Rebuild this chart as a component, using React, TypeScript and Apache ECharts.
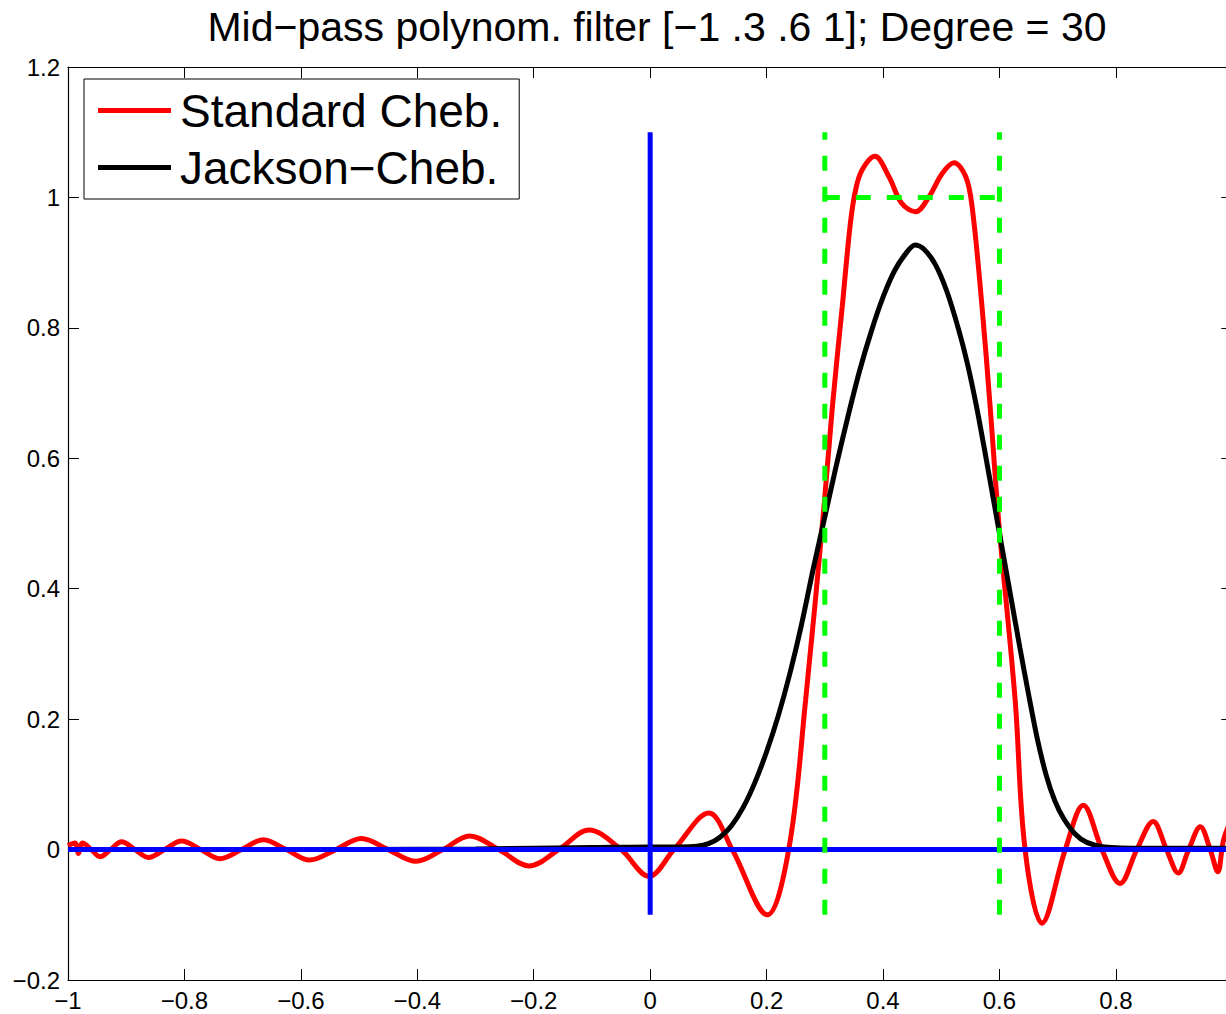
import React, { useEffect, useRef } from "react";
import * as echarts from "echarts";

const TITLE = "Mid\u2212pass polynom. filter [\u22121 .3 .6 1]; Degree = 30";
const SERIES_NAMES = ["Standard Cheb.", "Jackson\u2212Cheb."];

const X_MIN = -1;
const X_MAX = 1;
const X_STEP = 0.2;
const Y_MIN = -0.2;
const Y_MAX = 1.2;
const Y_STEP = 0.2;

// Standard Chebyshev approximation (red)
const standardCheb: [number, number][] = [
  [-1.0, 0.006], [-0.988, 0.010], [-0.982, -0.006], [-0.975, 0.010], [-0.96, 0.0],
  [-0.945, -0.011], [-0.927, 0.0], [-0.908, 0.012], [-0.885, 0.0], [-0.862, -0.012],
  [-0.834, 0.0], [-0.805, 0.013], [-0.772, 0.0], [-0.739, -0.014], [-0.702, 0.0],
  [-0.665, 0.015], [-0.625, 0.0], [-0.585, -0.016], [-0.54, 0.0], [-0.496, 0.017],
  [-0.45, 0.0], [-0.402, -0.018], [-0.356, 0.0], [-0.31, 0.021], [-0.26, 0.0],
  [-0.208, -0.025], [-0.157, 0.0], [-0.105, 0.03], [-0.05, 0.0], [-0.002, -0.041],
  [0.041, 0.0], [0.101, 0.056], [0.141, 0.0], [0.201, -0.1], [0.238, 0.0],
  [0.267, 0.229], [0.298, 0.52], [0.313, 0.679], [0.33, 0.833], [0.344, 0.961],
  [0.353, 1.012], [0.364, 1.042], [0.386, 1.063], [0.41, 1.032], [0.432, 0.991],
  [0.456, 0.978], [0.479, 1.001], [0.502, 1.037], [0.522, 1.053], [0.542, 1.032],
  [0.553, 0.986], [0.57, 0.833], [0.584, 0.679], [0.599, 0.5], [0.627, 0.229],
  [0.644, 0.0], [0.673, -0.113], [0.713, 0.0], [0.744, 0.068], [0.776, 0.0],
  [0.807, -0.052], [0.836, 0.0], [0.864, 0.043], [0.887, 0.0], [0.907, -0.036],
  [0.925, 0.0], [0.945, 0.035], [0.962, 0.0], [0.975, -0.034], [0.985, 0.015],
  [1.0, 0.05],
];

// Jackson-Chebyshev approximation (black)
const jacksonCheb: [number, number][] = [
  [-1.0, 0.0], [-0.5, 0.0], [-0.3, 0.001], [-0.1, 0.003], [0.0, 0.004],
  [0.05, 0.004], [0.08, 0.005], [0.1, 0.009], [0.12, 0.019], [0.14, 0.037],
  [0.16, 0.065], [0.18, 0.103], [0.2, 0.15], [0.22, 0.205], [0.24, 0.27],
  [0.26, 0.345], [0.28, 0.43], [0.3, 0.51], [0.32, 0.59], [0.34, 0.665],
  [0.36, 0.735], [0.38, 0.795], [0.4, 0.847], [0.42, 0.888], [0.44, 0.915],
  [0.455, 0.927], [0.47, 0.921], [0.49, 0.897], [0.51, 0.855], [0.53, 0.797],
  [0.545, 0.745], [0.56, 0.682], [0.575, 0.61], [0.59, 0.535], [0.605, 0.46],
  [0.62, 0.385], [0.635, 0.31], [0.65, 0.238], [0.665, 0.17], [0.68, 0.115],
  [0.695, 0.075], [0.71, 0.048], [0.73, 0.024], [0.75, 0.011], [0.78, 0.004],
  [0.85, 0.002], [1.0, 0.002],
];

// Reference lines (blue axes, green pass-band box)
const blueHorizontal: [number, number][] = [[-1, 0], [1, 0]];
const blueVertical: [number, number][] = [[0, -0.1], [0, 1.1]];
const greenLeft: [number, number][] = [[0.3, -0.1], [0.3, 1.1]];
const greenRight: [number, number][] = [[0.6, -0.1], [0.6, 1.1]];
const greenTop: [number, number][] = [[0.3, 1], [0.6, 1]];

const FONT = "'Liberation Sans', Arial, Helvetica, sans-serif";

function fmt(v: number): string {
  const s = String(Number(v.toFixed(2)));
  return s.replace("-", "\u2212");
}

export default function App() {
  const ref = useRef<HTMLDivElement>(null);

  useEffect(() => {
    if (!ref.current) return;
    const chart = echarts.init(ref.current, null, { renderer: "svg" });

    const axisCommon = {
      type: "value" as const,
      axisLine: { show: true, onZero: false, lineStyle: { color: "#000", width: 1.2 } },
      axisTick: { show: true, inside: true, length: 11, lineStyle: { color: "#000", width: 1 } },
      splitLine: { show: false },
    };

    const refLine = (data: [number, number][], color: string, dashed: boolean, z: number) => ({
      type: "line" as const,
      data,
      symbol: "none",
      silent: true,
      z,
      lineStyle: { color, width: 5, type: dashed ? [15, 16] : "solid", cap: "butt" },
    });

    chart.setOption({
      animation: false,
      backgroundColor: "#fff",
      title: {
        text: TITLE,
        left: 652,
        top: 1,
        textAlign: "center",
        textStyle: { fontFamily: FONT, fontSize: 41, fontWeight: "normal", color: "#000" },
      },
      legend: {
        data: SERIES_NAMES,
        orient: "vertical",
        left: 84,
        top: 79,
        padding: [3, 17, 3, 14],
        itemGap: 0,
        itemWidth: 73,
        itemHeight: 5,
        icon: "rect",
        backgroundColor: "#fff",
        borderColor: "#000",
        borderWidth: 1,
        borderRadius: 0,
        textStyle: {
          fontFamily: FONT,
          fontSize: 46,
          color: "#000",
          lineHeight: 57,
          padding: [0, 0, 0, 4],
        },
        selectedMode: false,
      },
      grid: { left: 68, right: 8, top: 67, bottom: 34, show: false },
      xAxis: [
        {
          ...axisCommon,
          position: "bottom",
          min: X_MIN,
          max: X_MAX,
          interval: X_STEP,
          axisLabel: {
            show: true,
            margin: 8,
            fontFamily: FONT,
            fontSize: 24,
            color: "#000",
            formatter: fmt,
          },
        },
        {
          ...axisCommon,
          position: "top",
          min: X_MIN,
          max: X_MAX,
          interval: X_STEP,
          axisLabel: { show: false },
        },
      ],
      yAxis: [
        {
          ...axisCommon,
          position: "left",
          min: Y_MIN,
          max: Y_MAX,
          interval: Y_STEP,
          axisLabel: {
            show: true,
            margin: 8,
            fontFamily: FONT,
            fontSize: 24,
            color: "#000",
            formatter: fmt,
          },
        },
        {
          ...axisCommon,
          position: "right",
          min: Y_MIN,
          max: Y_MAX,
          interval: Y_STEP,
          axisLabel: { show: false },
        },
      ],
      series: [
        {
          name: SERIES_NAMES[0],
          type: "line",
          data: standardCheb,
          symbol: "none",
          smooth: 0.35,
          z: 2,
          lineStyle: { color: "#ff0000", width: 5 },
          itemStyle: { color: "#ff0000" },
        },
        {
          name: SERIES_NAMES[1],
          type: "line",
          data: jacksonCheb,
          symbol: "none",
          smooth: 0.3,
          z: 3,
          lineStyle: { color: "#000000", width: 5 },
          itemStyle: { color: "#000000" },
        },
        refLine(blueHorizontal, "#0000ff", false, 4),
        refLine(blueVertical, "#0000ff", false, 4),
        refLine(greenLeft, "#00ff00", true, 5),
        refLine(greenRight, "#00ff00", true, 5),
        refLine(greenTop, "#00ff00", true, 5),
      ],
    });

    return () => chart.dispose();
  }, []);

  return (
    <div
      style={{
        position: "fixed",
        left: 0,
        top: 0,
        width: 1226,
        height: 1014,
        overflow: "hidden",
        background: "#fff",
      }}
    >
      <div ref={ref} style={{ width: 1242, height: 1014 }} />
    </div>
  );
}
